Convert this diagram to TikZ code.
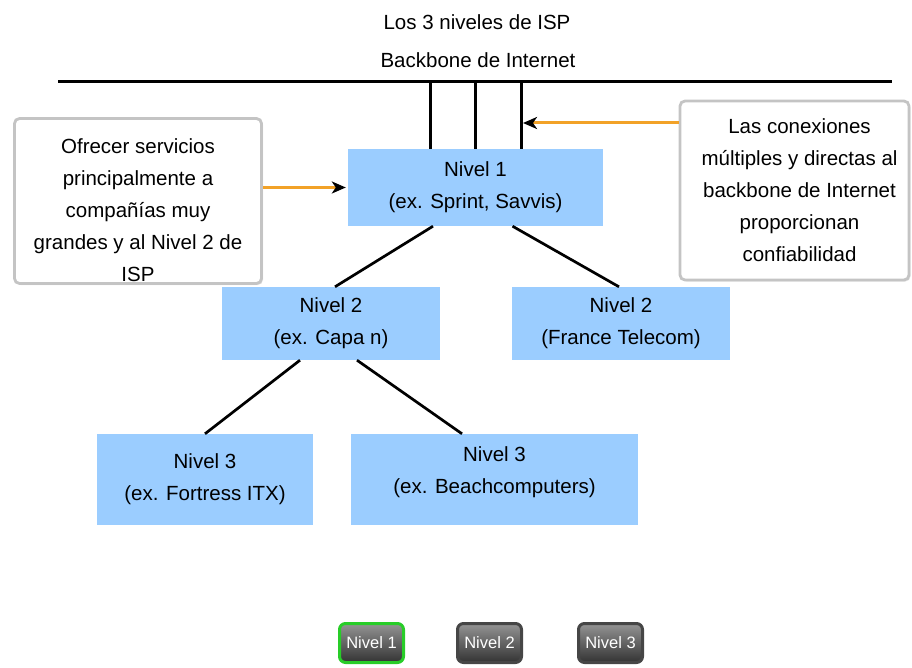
\documentclass[tikz,border=0pt]{standalone}
\usepackage{fontspec}
\setmainfont{Liberation Sans}
\usetikzlibrary{arrows.meta,shadows}
\definecolor{nivelblue}{RGB}{155,205,255}
\definecolor{arroworange}{RGB}{242,162,40}
\definecolor{calloutgray}{RGB}{196,196,196}
\definecolor{btngreen}{RGB}{40,205,40}
\definecolor{btnring}{RGB}{70,70,70}

\begin{document}
\begin{tikzpicture}[x=1pt,y=-1pt,font=\fontsize{20.5}{32}\selectfont]
    \tikzstyle{nivel}=[fill=nivelblue,align=center,inner sep=0pt]
    \tikzstyle{link}=[draw=black,line width=2.7pt]
    \tikzstyle{callout}=[draw=calloutgray,line width=2.8pt,fill=white,rounded corners=5pt,inner sep=0pt,
        drop shadow={opacity=0.2,shadow xshift=1.5pt,shadow yshift=-1.5pt}]
    \tikzstyle{annot}=[align=center,inner sep=0pt]
    \tikzstyle{pointer}=[draw=arroworange,line width=3pt,-{Stealth[black,length=14pt,width=12pt,inset=4pt]}]
    \tikzstyle{button}=[rounded corners=6pt,line width=3pt,top color=black!42,bottom color=black!80,
        text=white,font=\fontsize{16.5}{18}\selectfont,minimum width=64pt,minimum height=39pt,inner sep=0pt]

    \useasboundingbox (0,0) rectangle (912,668);

    % Titles
    \node[annot] (title) at (477,22) {Los 3 niveles de ISP};
    \node[annot] (bb-title) at (478,60) {Backbone de Internet};

    % Draw the ISP levels
    \node[nivel,minimum width=255pt,minimum height=77pt] (L1) at (475.5,187.5) {Nivel 1\\(ex. Sprint, Savvis)};
    \node[nivel,minimum width=218pt,minimum height=73pt] (L2-a) at (331,323.5) {Nivel 2\\(ex. Capa n)};
    \node[nivel,minimum width=218pt,minimum height=73pt] (L2-b) at (621,323.5) {Nivel 2\\(France Telecom)};
    \node[nivel,minimum width=216pt,minimum height=91pt] (L3-a) at (205,479.5) {Nivel 3\\(ex. Fortress ITX)};
    \node[nivel,minimum width=287pt,minimum height=91pt] (L3-b) at (494.5,479.5) {Nivel 3\\(ex. Beachcomputers)\\[-14pt]};

    % Backbone and the three taps into Nivel 1
    \coordinate (bb-w) at (58,82);
    \coordinate (bb-e) at (892,82);
    \draw[link,line width=3pt] (bb-w) -- (bb-e);
    \foreach \name / \dx in {1/-45.5,2/0,3/45.5}
        \draw[link,line width=3pt] ([xshift=\dx pt]L1.north) coordinate (tap-\name) -- (tap-\name |- bb-w);

    % Connect the levels
    \draw[link] ([xshift=-42.5pt]L1.south) -- ([xshift=4pt]L2-a.north);
    \draw[link] ([xshift=37pt]L1.south) -- ([xshift=-2pt]L2-b.north);
    \draw[link] ([xshift=-31pt]L2-a.south) -- (L3-a.north);
    \draw[link] ([xshift=26pt]L2-a.south) -- ([xshift=-32.5pt]L3-b.north);

    % Callouts
    \node[callout,minimum width=247pt,minimum height=165pt] (note-l) at (138,201) {};
    \node[annot] (note-l-text) at ([yshift=-9pt]note-l.center)
        {Ofrecer servicios\\principalmente a\\compañías muy\\grandes y al Nivel 2 de\\ISP};
    \node[callout,minimum width=229pt,minimum height=179pt] (note-r) at (794.5,190.5) {};
    \node[annot] (note-r-text) at ([xshift=5pt]note-r.center)
        {Las conexiones\\múltiples y directas al\\backbone de Internet\\proporcionan\\confiabilidad};

    % Arrows from the callouts
    \draw[pointer,shorten >=2pt] (note-l.east |- L1.west) -- (L1.west);
    \coordinate (note-r-out) at ([yshift=67.5pt]note-r.west);
    \draw[pointer,shorten >=2pt] (note-r-out) -- (note-r-out -| tap-3);

    % Level buttons
    \foreach \name / \x / \ring in {1/371.5/btngreen,2/489.5/btnring,3/610.5/btnring}
        \node[button,draw=\ring] (B-\name) at (\x,643) {Nivel \name};
\end{tikzpicture}
\end{document}
